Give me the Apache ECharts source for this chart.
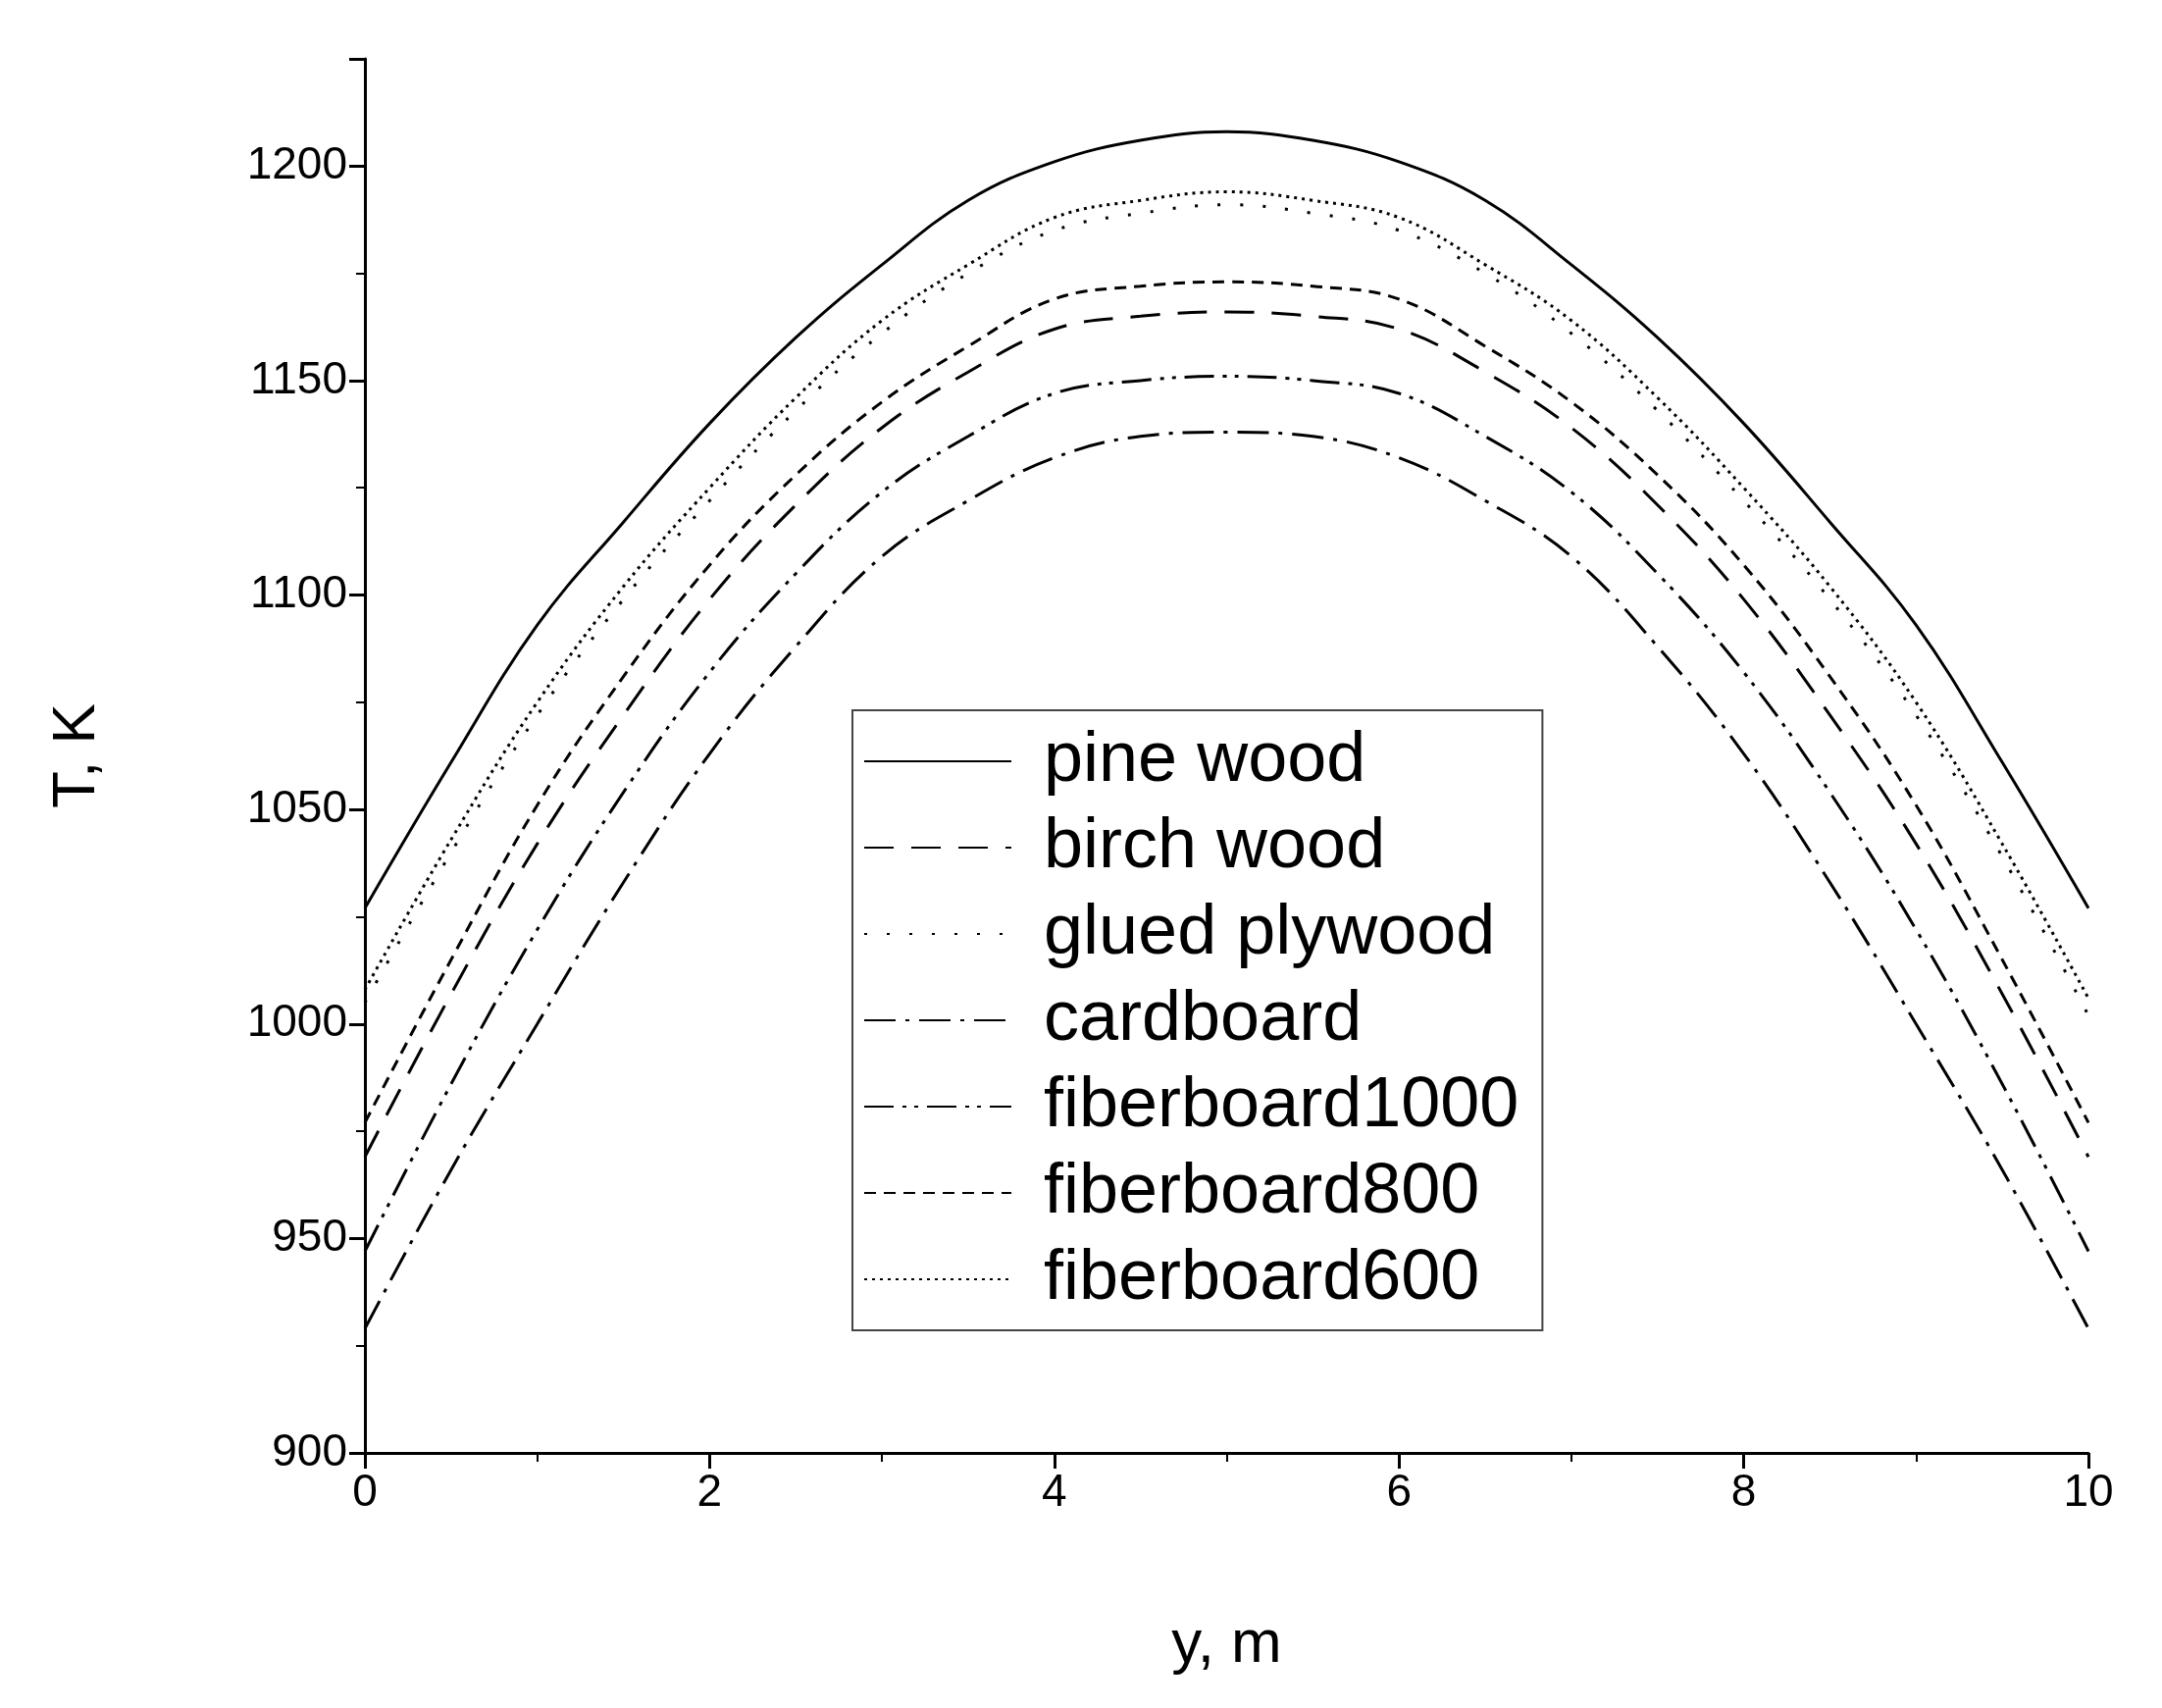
<!DOCTYPE html>
<html><head><meta charset="utf-8">
<script src="https://cdn.jsdelivr.net/npm/echarts@6/dist/echarts.min.js"></script>
<style>html,body{margin:0;background:#fff}#c{width:2204px;height:1741px}</style>
</head><body><div id="c"></div>
<script>
const xs = [0,0.5,1,1.5,2,2.5,3,3.5,4,4.5,5,5.5,6,6.5,7,7.5,8,8.5,9,9.5,10];
const pine      = [1027,1061,1093,1117,1140,1160,1177,1192,1201,1206,1208,1206,1201,1192,1177,1160,1140,1117,1093,1061,1027];
const birch     = [969,1007,1042,1072,1099,1121,1139,1152,1162,1165,1166,1165,1162,1152,1139,1121,1099,1072,1042,1007,969];
const glued     = [1005,1040,1072,1099,1122,1143,1161,1175,1185,1189,1191,1189,1185,1175,1161,1143,1122,1099,1072,1039,1002];
const cardboard = [929,966,1000,1033,1063,1088,1109,1122,1132,1137,1138,1137,1132,1122,1109,1088,1063,1033,1000,966,929];
const fb1000    = [947,986,1022,1054,1082,1105,1124,1137,1147,1150,1151,1150,1147,1137,1124,1105,1082,1054,1022,986,947];
const fb800     = [977,1015,1051,1081,1107,1128,1145,1158,1169,1172,1173,1172,1169,1158,1145,1128,1107,1081,1051,1015,977];
const fb600     = [1008,1043,1075,1102,1125,1146,1164,1177,1188,1192,1194,1192,1188,1177,1164,1146,1125,1102,1075,1042,1006];
const names = ['pine wood','birch wood','glued plywood','cardboard','fiberboard1000','fiberboard800','fiberboard600'];
const vals = [pine,birch,glued,cardboard,fb1000,fb800,fb600];
const dashes = ['solid',[30,18],[3,20],[32,10,4,10],[30,9,4,8,4,9],[12,8],[3,5]];
const series = names.map((n,i)=>({
  name:n,type:'line',smooth:0.4,symbol:'none',
  data:xs.map((x,j)=>[x,vals[i][j]]),
  lineStyle:{color:'#000',width:3,type:dashes[i]},itemStyle:{color:'#000'}
}));
const ch = echarts.init(document.getElementById('c'));
const FF = 'Arial, Liberation Sans';
const axisCommon = {
  axisLine:{show:true,lineStyle:{color:'#000',width:3}},
  axisTick:{show:true,length:16,lineStyle:{color:'#000',width:3}},
  minorTick:{show:true,splitNumber:2,length:9,lineStyle:{color:'#000',width:2}},
  splitLine:{show:false},
  axisLabel:{color:'#000',fontSize:46,fontFamily:FF,margin:18,formatter:v=>String(v)},
  nameTextStyle:{color:'#000',fontSize:62,fontFamily:FF}
};
ch.setOption({
  animation:false,
  grid:{left:372,right:75,top:60,bottom:260},
  xAxis:Object.assign({},axisCommon,{type:'value',min:0,max:10,interval:2,name:'y, m',nameLocation:'middle',nameGap:165}),
  yAxis:Object.assign({},axisCommon,{type:'value',min:900,max:1225,interval:50,name:'T, K',nameLocation:'middle',nameGap:262,
    axisLabel:Object.assign({},axisCommon.axisLabel,{showMaxLabel:false})}),
  legend:{left:869,top:724,orient:'vertical',itemWidth:150,itemHeight:20,itemGap:16,
    padding:[16,24,16,11],borderColor:'#444',borderWidth:2,
    itemStyle:{opacity:0},
    textStyle:{color:'#000',fontSize:72,fontFamily:FF,padding:[0,0,0,28]}},
  series
});
</script></body></html>
